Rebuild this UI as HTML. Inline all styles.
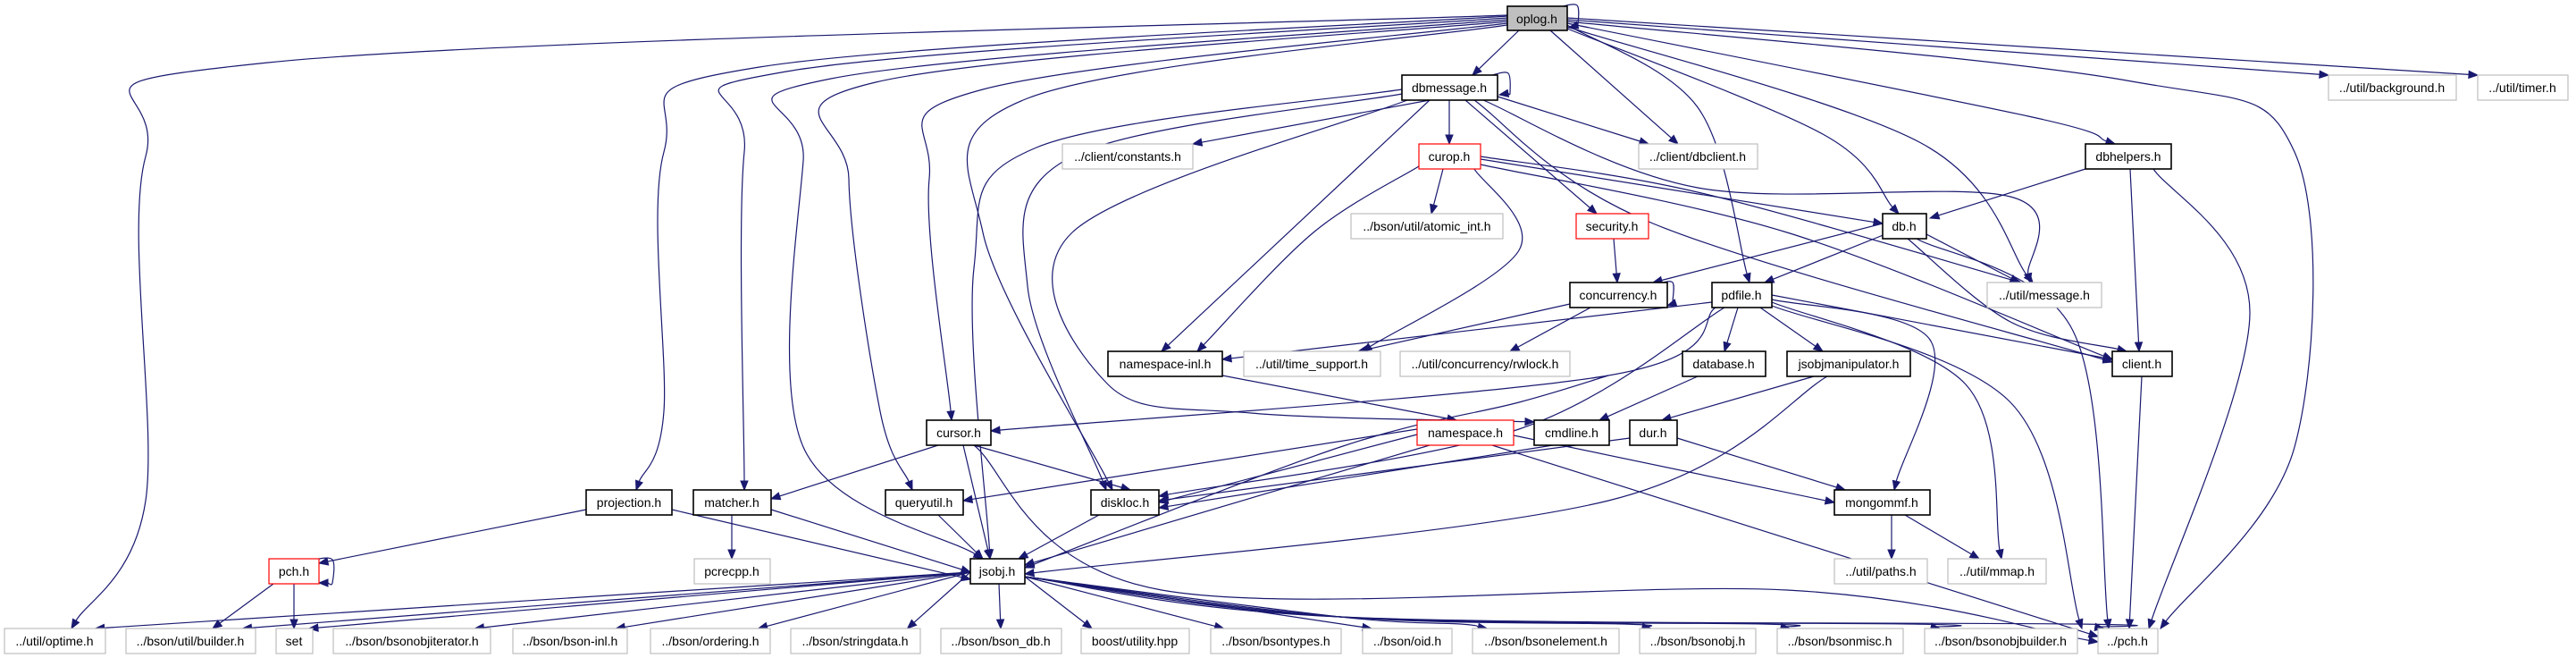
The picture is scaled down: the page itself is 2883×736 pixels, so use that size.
<!DOCTYPE html>
<html><head><meta charset="utf-8">
<style>
html,body{margin:0;padding:0;background:#fff;}
svg{display:block;}
text{font-family:"Liberation Sans",sans-serif;font-size:14px;fill:#000;}
</style></head>
<body>
<svg id="g" width="2883" height="736" viewBox="0 0 2883 736" xmlns="http://www.w3.org/2000/svg">
<g id="edges" fill="none" stroke="#191970" stroke-width="1.2"></g>
<g id="arrows" fill="#191970" stroke="#191970" stroke-width="1"></g>
<g id="nodes"></g>
</svg>
<script>
var N={
"oplog.h":[1687,1754,7,34,"f"],
"dbmessage.h":[1569,1676,84,112,"b"],
"../client/constants.h":[1189,1335,161,189,"g"],
"curop.h":[1588,1657,161,189,"r"],
"../client/dbclient.h":[1834,1967,161,189,"g"],
"../bson/util/atomic_int.h":[1512,1682,239,267,"g"],
"security.h":[1764,1845,239,267,"r"],
"concurrency.h":[1757,1866,316,344,"b"],
"pdfile.h":[1916,1983,316,344,"b"],
"../util/background.h":[2606,2749,84,112,"g"],
"../util/timer.h":[2773,2874,84,112,"g"],
"dbhelpers.h":[2334,2430,161,189,"b"],
"db.h":[2107,2156,239,267,"b"],
"../util/message.h":[2224,2352,316,344,"g"],
"namespace-inl.h":[1240,1368,393,421,"b"],
"../util/time_support.h":[1392,1545,393,421,"g"],
"../util/concurrency/rwlock.h":[1567,1757,393,421,"g"],
"database.h":[1883,1976,393,421,"b"],
"jsobjmanipulator.h":[2000,2138,393,421,"b"],
"client.h":[2364,2431,393,421,"b"],
"cursor.h":[1037,1109,470,498,"b"],
"namespace.h":[1586,1694,470,498,"r"],
"cmdline.h":[1717,1801,470,498,"b"],
"dur.h":[1824,1877,470,498,"b"],
"queryutil.h":[991,1078,548,576,"b"],
"diskloc.h":[1221,1297,548,576,"b"],
"projection.h":[656,752,548,576,"b"],
"matcher.h":[776,863,548,576,"b"],
"mongommf.h":[2053,2160,548,576,"b"],
"jsobj.h":[1086,1147,625,653,"b"],
"pch.h":[301,357,625,653,"r"],
"pcrecpp.h":[777,862,625,653,"g"],
"../util/paths.h":[2053,2157,625,653,"g"],
"../util/mmap.h":[2180,2290,625,653,"g"],
"../util/optime.h":[5,118,703,731,"g"],
"../bson/util/builder.h":[141,286,703,731,"g"],
"set":[309,350,703,731,"g"],
"../bson/bsonobjiterator.h":[373,549,703,731,"g"],
"../bson/bson-inl.h":[574,702,703,731,"g"],
"../bson/ordering.h":[728,862,703,731,"g"],
"../bson/stringdata.h":[885,1030,703,731,"g"],
"../bson/bson_db.h":[1053,1188,703,731,"g"],
"boost/utility.hpp":[1210,1331,703,731,"g"],
"../bson/bsontypes.h":[1355,1501,703,731,"g"],
"../bson/oid.h":[1525,1625,703,731,"g"],
"../bson/bsonelement.h":[1648,1812,703,731,"g"],
"../bson/bsonobj.h":[1835,1965,703,731,"g"],
"../bson/bsonmisc.h":[1989,2130,703,731,"g"],
"../bson/bsonobjbuilder.h":[2154,2325,703,731,"g"],
"../pch.h":[2348,2415,703,731,"g"]
};
var E=[
// explicit waypoint edges
[[1687,17],[300,70],[163,175],[163,560],[80,703]],
[[1687,18],[850,75],[743,170],[743,460],[712,548]],
[[1687,20],[880,80],[833,170],[833,548]],
[[1687,22],[930,88],[899,180],[899,500],[1100,625]],
[[1687,24],[980,92],[950,200],[985,460],[1021,548]],
[[1687,26],[1100,100],[1040,200],[1065,470]],
[[1687,28],[1150,110],[1100,260],[1245,548]],
[[1754,28],[1900,120],[1958,316]],
[[1754,32],[2040,150],[2125,239]],
[[1754,30],[2150,160],[2275,316]],
[[1754,26],[2270,130],[2367,161]],
[[1754,22],[2606,84]],
[[1754,20],[2773,84]],
[[1754,24],[2380,90],[2568,170],[2568,500],[2418,703]],
[[1735,34],[1878,161]],
[[1700,34],[1648,84]],
[[1745,8],[1765,6],[1766,28],[1756,31]],
[[1670,84],[1688,82],[1690,104],[1678,106]],
[[1600,112],[1335,161]],
[[1622,112],[1622,161]],
[[1676,108],[1845,161]],
[[1640,112],[1787,239]],
[[1660,112],[1900,210],[2250,220],[2272,316]],
[[1650,112],[1850,250],[2364,405]],
[[1600,112],[1300,393]],
[[1569,100],[1160,165],[1090,300],[1108,625]],
[[1569,105],[1200,175],[1150,320],[1238,548]],
[[1575,112],[1200,260],[1240,430],[1400,462],[1717,472]],
[[1615,189],[1602,239]],
[[1657,178],[2107,250]],
[[1588,186],[1470,260],[1340,393]],
[[1650,189],[1700,280],[1525,393]],
[[1657,175],[1900,215],[2262,316]],
[[1657,184],[2000,260],[2364,402]],
[[1806,267],[1810,316]],
[[1854,318],[1872,316],[1872,340],[1866,342]],
[[1757,340],[1520,393]],
[[1780,344],[1690,393]],
[[2107,250],[1850,316]],
[[2110,262],[1975,316]],
[[2156,262],[2260,316]],
[[2135,267],[2250,360],[2380,393]],
[[2145,267],[2320,370],[2360,703]],
[[2334,189],[2160,244]],
[[2384,189],[2394,393]],
[[2410,189],[2518,350],[2405,703]],
[[1916,338],[1368,402]],
[[1945,344],[1930,393]],
[[1970,344],[2040,393]],
[[1983,330],[2364,402]],
[[1983,335],[2160,380],[2120,548]],
[[1983,338],[2200,430],[2240,625]],
[[1983,342],[2250,450],[2330,703]],
[[1920,344],[1800,420],[1109,482]],
[[1930,344],[1700,480],[1297,555]],
[[1368,420],[1630,470]],
[[1586,480],[1078,560]],
[[1586,486],[1297,562]],
[[1600,498],[1147,632]],
[[1694,487],[2053,562]],
[[1670,498],[2348,712]],
[[1900,421],[1790,470]],
[[1738,498],[1297,568]],
[[1824,490],[1297,560]],
[[1877,490],[2065,548]],
[[2030,421],[1860,470]],
[[2045,421],[1800,560],[1147,642]],
[[1050,498],[863,558]],
[[1090,498],[1265,548]],
[[1078,498],[1108,625]],
[[1090,498],[1300,660],[2000,660],[2348,718]],
[[1050,576],[1100,625]],
[[1230,576],[1140,625]],
[[819,576],[819,625]],
[[863,570],[1086,640]],
[[656,570],[357,630]],
[[752,570],[1086,648]],
[[350,626],[372,626],[372,652],[357,652]],
[[306,653],[238,703]],
[[329,653],[329,703]],
[[2117,576],[2117,625]],
[[2132,576],[2215,625]],
[[2397,421],[2383,703]],
[[1800,420],[1700,450],[1500,500],[1147,635]]
];
// jsobj fan to bottom row
var fan=["../util/optime.h","../bson/util/builder.h","set","../bson/bsonobjiterator.h","../bson/bson-inl.h","../bson/ordering.h","../bson/stringdata.h","../bson/bson_db.h","boost/utility.hpp","../bson/bsontypes.h","../bson/oid.h","../bson/bsonelement.h","../bson/bsonobj.h","../bson/bsonmisc.h","../bson/bsonobjbuilder.h","../pch.h"];
fan.forEach(function(n){
  var b=N[n]; var tx=(b[0]+b[1])/2, sx, sy;
  if(tx<1086){sx=1086;sy=640;var ex=Math.min(b[1],tx+ (b[1]-b[0])*0.4);E.push([[sx,sy],[ex,703]]);}
  else if(tx>1147){sx=1147;sy=645;var ex2=Math.max(b[0],tx-(b[1]-b[0])*0.4);
    if(tx>1700)E.push([[sx,sy],[1500,690],[ex2-30,698],[ex2,703]]);else E.push([[sx,sy],[ex2,703]]);}
  else E.push([[1118,653],[1120,703]]);
});
var ns="http://www.w3.org/2000/svg";
var eg=document.getElementById("edges"),ag=document.getElementById("arrows"),ng=document.getElementById("nodes");
function el(t,a,p){var e=document.createElementNS(ns,t);for(var k in a)e.setAttribute(k,a[k]);p.appendChild(e);return e;}
E.forEach(function(P){
  P=P.map(function(p){return [p[0],p[1]];});
  var n=P.length,last=P[n-1],prev=P[n-2];
  var dx=last[0]-prev[0],dy=last[1]-prev[1],L=Math.sqrt(dx*dx+dy*dy)||1;
  var ux=dx/L,uy=dy/L,AL=10,AW=4;
  var base=[last[0]-ux*AL,last[1]-uy*AL];
  P[n-1]=base;
  var d="M"+P[0][0]+","+P[0][1];
  if(n==2)d+=" L"+base[0]+","+base[1];
  else{
    for(var i=0;i<n-1;i++){
      var p0=P[Math.max(0,i-1)],p1=P[i],p2=P[i+1],p3=P[Math.min(n-1,i+2)];
      var c1=[p1[0]+(p2[0]-p0[0])/6,p1[1]+(p2[1]-p0[1])/6];
      var c2=[p2[0]-(p3[0]-p1[0])/6,p2[1]-(p3[1]-p1[1])/6];
      d+=" C"+c1[0]+","+c1[1]+" "+c2[0]+","+c2[1]+" "+p2[0]+","+p2[1];
    }
  }
  el("path",{d:d},eg);
  el("polygon",{points:last[0]+","+last[1]+" "+(base[0]-uy*AW)+","+(base[1]+ux*AW)+" "+(base[0]+uy*AW)+","+(base[1]-ux*AW)},ag);
});
for(var k in N){
  var b=N[k],s=b[4];
  var st=s=="g"?"#bfbfbf":s=="r"?"#ff0000":"#000";
  el("rect",{x:b[0],y:b[2],width:b[1]-b[0],height:b[3]-b[2],fill:s=="f"?"#bfbfbf":"#fff",stroke:st,"stroke-width":s=="b"||s=="f"?1.6:1.2},ng);
}
</script>
<svg width="0" height="0" style="position:absolute;left:0;top:0;overflow:visible" viewBox="0 0 2883 736">
</svg>
<div style="position:absolute;left:0;top:0;width:2883px;height:736px;">
<svg width="2883" height="736" viewBox="0 0 2883 736" xmlns="http://www.w3.org/2000/svg" style="position:absolute;left:0;top:0">
<g text-anchor="middle">
<text x="1720" y="26">oplog.h</text>
<text x="1622" y="103">dbmessage.h</text>
<text x="1262" y="180">../client/constants.h</text>
<text x="1622" y="180">curop.h</text>
<text x="1900" y="180">../client/dbclient.h</text>
<text x="1597" y="258">../bson/util/atomic_int.h</text>
<text x="1804" y="258">security.h</text>
<text x="1811" y="335">concurrency.h</text>
<text x="1949" y="335">pdfile.h</text>
<text x="2677" y="103">../util/background.h</text>
<text x="2823" y="103">../util/timer.h</text>
<text x="2382" y="180">dbhelpers.h</text>
<text x="2131" y="258">db.h</text>
<text x="2288" y="335">../util/message.h</text>
<text x="1304" y="412">namespace-inl.h</text>
<text x="1468" y="412">../util/time_support.h</text>
<text x="1662" y="412">../util/concurrency/rwlock.h</text>
<text x="1929" y="412">database.h</text>
<text x="2069" y="412">jsobjmanipulator.h</text>
<text x="2397" y="412">client.h</text>
<text x="1073" y="489">cursor.h</text>
<text x="1640" y="489">namespace.h</text>
<text x="1759" y="489">cmdline.h</text>
<text x="1850" y="489">dur.h</text>
<text x="1034" y="567">queryutil.h</text>
<text x="1259" y="567">diskloc.h</text>
<text x="704" y="567">projection.h</text>
<text x="819" y="567">matcher.h</text>
<text x="2106" y="567">mongommf.h</text>
<text x="1116" y="644">jsobj.h</text>
<text x="329" y="644">pch.h</text>
<text x="819" y="644">pcrecpp.h</text>
<text x="2105" y="644">../util/paths.h</text>
<text x="2235" y="644">../util/mmap.h</text>
<text x="61" y="722">../util/optime.h</text>
<text x="213" y="722">../bson/util/builder.h</text>
<text x="329" y="722">set</text>
<text x="461" y="722">../bson/bsonobjiterator.h</text>
<text x="638" y="722">../bson/bson-inl.h</text>
<text x="795" y="722">../bson/ordering.h</text>
<text x="957" y="722">../bson/stringdata.h</text>
<text x="1120" y="722">../bson/bson_db.h</text>
<text x="1270" y="722">boost/utility.hpp</text>
<text x="1428" y="722">../bson/bsontypes.h</text>
<text x="1575" y="722">../bson/oid.h</text>
<text x="1730" y="722">../bson/bsonelement.h</text>
<text x="1900" y="722">../bson/bsonobj.h</text>
<text x="2059" y="722">../bson/bsonmisc.h</text>
<text x="2239" y="722">../bson/bsonobjbuilder.h</text>
<text x="2381" y="722">../pch.h</text>
</g>
</svg>
</div>
</body></html>
